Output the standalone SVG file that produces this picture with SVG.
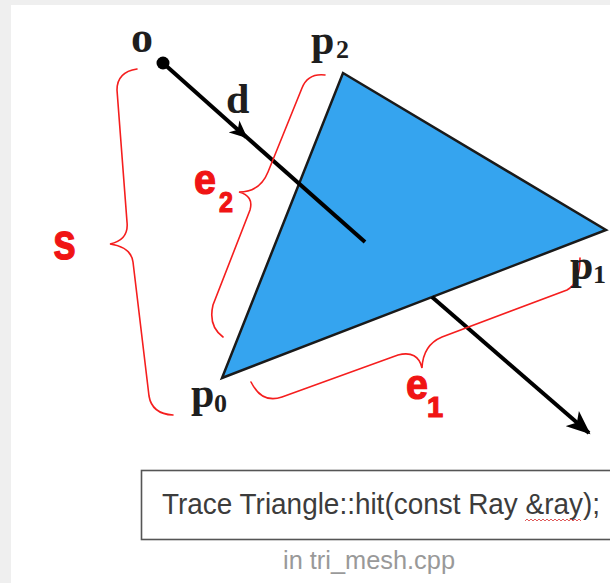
<svg xmlns="http://www.w3.org/2000/svg" width="610" height="583" viewBox="0 0 610 583">
<style>
.serif{font-family:"Liberation Serif","Times New Roman",serif;font-weight:bold;fill:#1e1e1e;}
.red{font-family:"Liberation Sans",Arial,sans-serif;font-weight:bold;fill:#f01414;stroke:#f01414;stroke-width:1.2;}
.brace{fill:none;stroke:#f51e1e;stroke-width:1.6;stroke-linecap:round;}
.ray{fill:none;stroke:#000;stroke-width:4;}
</style>
<defs>
<marker id="arrS" markerUnits="userSpaceOnUse" markerWidth="20" markerHeight="18" refX="16" refY="8" orient="auto" viewBox="0 0 20 16">
<path d="M0,0 L18,8 L0,16 L5,8 z" fill="#000"/>
</marker>
<marker id="arrL" markerUnits="userSpaceOnUse" markerWidth="26" markerHeight="22" refX="22" refY="10" orient="auto" viewBox="0 0 26 20">
<path d="M0,0 L24,10 L0,20 L6,10 z" fill="#000"/>
</marker>
</defs>
<rect x="0" y="0" width="610" height="583" fill="#efefef"/>
<rect x="11" y="5" width="599" height="578" fill="#ffffff"/>

<g id="triangle">
<polygon points="343,73 606,230 222,378" fill="#35a4ef" stroke="#1a1a1a" stroke-width="2.5" stroke-linejoin="miter"/>
</g>

<g id="connectors">
<line class="ray" x1="163" y1="63" x2="246" y2="137" marker-end="url(#arrS)"/>
<line class="ray" x1="243" y1="134" x2="365" y2="242"/>
<line class="ray" x1="432" y1="297" x2="589" y2="433" marker-end="url(#arrL)"/>
<circle cx="163" cy="63" r="6.5" fill="#000"/>
</g>

<g id="brace-s">
<path class="brace" d="M137,69 Q117,72 117,90 L127,222 Q129,240 110,244 Q131,247 133,262 L149,396 Q152,414 173,415"/>
<text class="red" x="53" y="259" font-size="52" textLength="23" lengthAdjust="spacingAndGlyphs">s</text>
</g>

<g id="brace-e2">
<path class="brace" d="M325,75 Q308,73 302,88 L268,172 Q260,192 239,192 Q254,196 250,210 L213,305 Q208,326 223,337"/>
<text class="red" x="194" y="194" font-size="42" textLength="22" lengthAdjust="spacingAndGlyphs">e</text>
<text class="red" x="219" y="212" font-size="29" textLength="14" lengthAdjust="spacingAndGlyphs">2</text>
</g>

<g id="brace-e1">
<path class="brace" d="M251,382 Q262,404 282,397 L398,355 Q418,350 422,368 Q423,345 442,337 L567,290 Q580,283 580,258"/>
<text class="red" x="406" y="399" font-size="42" textLength="22" lengthAdjust="spacingAndGlyphs">e</text>
<text class="red" x="427" y="417" font-size="29">1</text>
</g>

<g id="label-o"><text class="serif" x="131" y="52" font-size="44">o</text></g>
<g id="label-d"><text class="serif" x="226" y="113" font-size="42">d</text></g>
<g id="label-p2"><text class="serif" x="311" y="54" font-size="42">p</text><text class="serif" x="336" y="58" font-size="26">2</text></g>
<g id="label-p1"><text class="serif" x="570" y="279" font-size="42">p</text><text class="serif" x="593" y="283" font-size="26">1</text></g>
<g id="label-p0"><text class="serif" x="191" y="407" font-size="42">p</text><text class="serif" x="214" y="412" font-size="26">0</text></g>

<g id="code-box">
<rect x="141.5" y="470.5" width="480" height="69" fill="#ffffff" stroke="#555" stroke-width="1.6"/>
<text x="162" y="514" font-family="Liberation Sans, Arial, sans-serif" font-size="29" fill="#3c3c3c" textLength="438" lengthAdjust="spacingAndGlyphs">Trace Triangle::hit(const Ray &amp;ray);</text>
<path d="M525,521 l2,-2 l2,2 l2,-2 l2,2 l2,-2 l2,2 l2,-2 l2,2 l2,-2 l2,2 l2,-2 l2,2 l2,-2 l2,2 l2,-2 l2,2 l2,-2 l2,2 l2,-2 l2,2 l2,-2 l2,2 l2,-2 l2,2 l2,-2 l2,2 l2,-2 l2,2" fill="none" stroke="#e05a5a" stroke-width="1"/>
</g>

<g id="caption">
<text x="283" y="569" font-family="Liberation Sans, Arial, sans-serif" font-size="26" fill="#999" textLength="172" lengthAdjust="spacingAndGlyphs">in tri_mesh.cpp</text>
</g>
</svg>
